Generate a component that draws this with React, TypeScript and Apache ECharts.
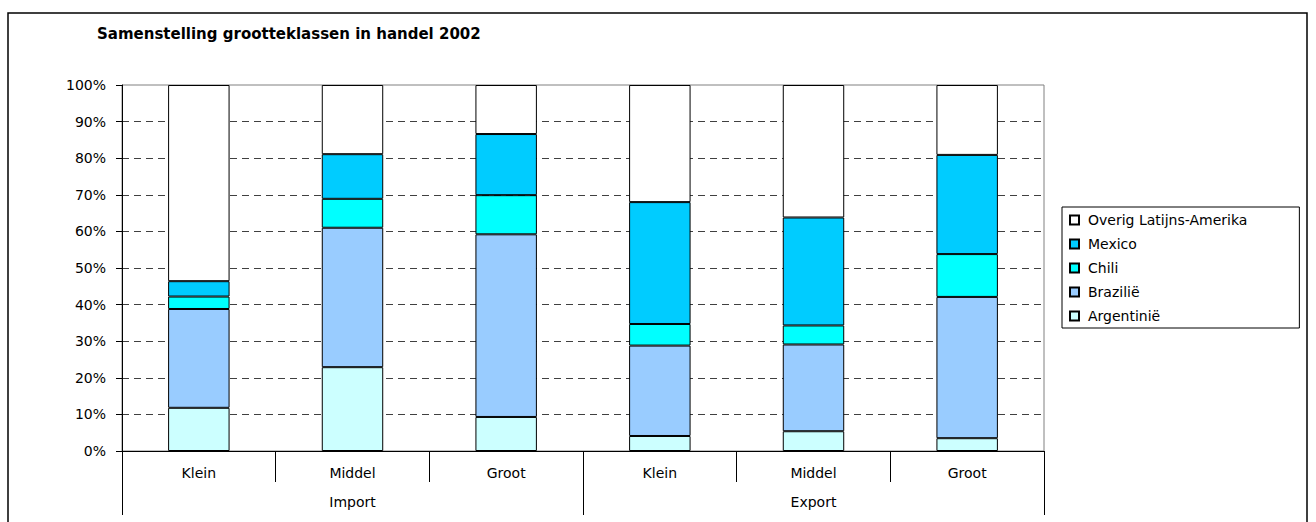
import React, { useEffect, useRef } from "react";
import * as echarts from "echarts";

const categories = ["Klein", "Middel", "Groot", "Klein", "Middel", "Groot"];
const groups = ["Import", "Export"];
const argentinie = [11.8, 22.9, 9.3, 4.1, 5.4, 3.5];
const brazilie = [27.0, 38.1, 49.9, 24.7, 23.7, 38.6];
const chili = [3.4, 7.9, 10.7, 5.9, 5.2, 11.7];
const mexico = [4.2, 12.2, 16.7, 33.3, 29.5, 27.1];
const overig = [53.6, 18.9, 13.4, 32.0, 36.2, 19.1];
const legendOrder = ["Overig Latijns-Amerika", "Mexico", "Chili", "Brazilië", "Argentinië"];

const FONT = "DejaVu Sans";

export default function App() {
  const ref = useRef<HTMLDivElement>(null);
  useEffect(() => {
    if (!ref.current) return;
    const chart = echarts.init(ref.current, null, { renderer: "svg" });
    const mk = (name: string, data: number[], color: string) => ({
      name,
      type: "bar",
      stack: "total",
      data,
      barWidth: "40%",
      itemStyle: { color, borderColor: "#000", borderWidth: 1 },
      emphasis: { disabled: true },
    });
    chart.setOption({
      animation: false,
      backgroundColor: "#fff",
      textStyle: { fontFamily: FONT, color: "#000" },
      title: {
        text: "Samenstelling grootteklassen in handel 2002",
        left: 97,
        top: 26,
        padding: 0,
        textStyle: { fontFamily: FONT, fontSize: 15, fontWeight: "bold", color: "#000" },
      },
      graphic: [
        {
          type: "rect",
          shape: { x: 8, y: 13, width: 1299, height: 530 },
          style: { fill: "none", stroke: "#000", lineWidth: 1.5 },
          silent: true,
          z: -1,
        },
      ],
      legend: {
        orient: "vertical",
        left: 1062,
        top: 207,
        padding: [6, 52, 5, 7],
        borderColor: "#000",
        borderWidth: 1,
        itemWidth: 9,
        itemHeight: 9,
        itemGap: 10,
        icon: "rect",
        data: legendOrder,
        textStyle: { fontFamily: FONT, fontSize: 14, color: "#000", padding: [0, 0, 0, 4] },
      },
      grid: {
        left: 122,
        right: 272,
        top: 85,
        bottom: 71,
        show: true,
        borderColor: "#808080",
        borderWidth: 1,
      },
      xAxis: [
        {
          type: "category",
          data: categories,
          position: "bottom",
          axisLine: { show: true, lineStyle: { color: "#000", width: 1 } },
          axisTick: { show: true, length: 31, interval: 0, lineStyle: { color: "#000" } },
          axisLabel: { interval: 0, margin: 15, fontSize: 14, color: "#000", fontFamily: FONT },
          splitLine: { show: false },
        },
        {
          type: "category",
          data: groups,
          position: "bottom",
          axisLine: { show: false },
          axisTick: { show: true, length: 64, interval: 0, lineStyle: { color: "#000" } },
          axisLabel: { interval: 0, margin: 44, fontSize: 14, color: "#000", fontFamily: FONT },
          splitLine: { show: false },
        },
      ],
      yAxis: {
        type: "value",
        min: 0,
        max: 100,
        interval: 10,
        axisLine: { show: true, lineStyle: { color: "#000", width: 1 } },
        axisTick: { show: true, length: 6, lineStyle: { color: "#000" } },
        axisLabel: { formatter: "{value}%", margin: 16, fontSize: 14, color: "#000", fontFamily: FONT },
        splitLine: {
          show: true,
          showMaxLine: false,
          showMinLine: false,
          lineStyle: { color: "#404040", type: [7, 5], width: 1 },
        },
      },
      series: [
        mk("Argentinië", argentinie, "#CCFFFF"),
        mk("Brazilië", brazilie, "#99CCFF"),
        mk("Chili", chili, "#00FFFF"),
        mk("Mexico", mexico, "#00CCFF"),
        mk("Overig Latijns-Amerika", overig, "#FFFFFF"),
      ],
    });
    return () => chart.dispose();
  }, []);
  return (
    <div
      ref={ref}
      style={{ position: "fixed", left: 0, top: 0, width: "1316px", height: "522px", background: "#fff" }}
    />
  );
}
